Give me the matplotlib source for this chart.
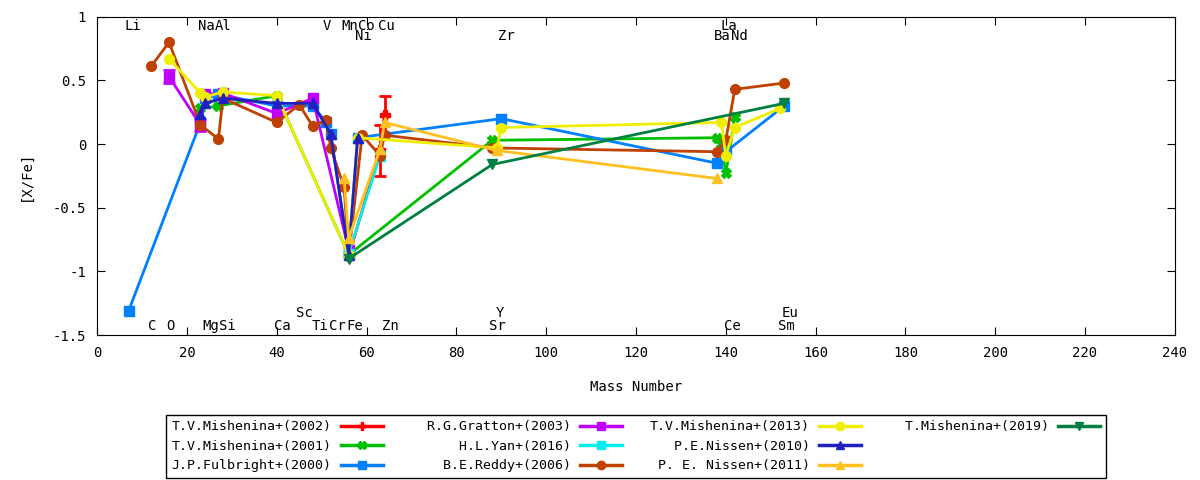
import matplotlib
matplotlib.use("Agg")
import matplotlib.pyplot as plt
from matplotlib.lines import Line2D

plt.rcParams['font.family'] = ['DejaVu Sans Mono']
plt.rcParams['font.size'] = 9.5

# series: mass numbers, [X/Fe], errors
mish02_x = [56, 63, 64]
mish02_y = [-0.88, -0.05, 0.23]
mish02_e = [0, 0.20, 0.15]

mish01_x = [23, 27, 40, 56, 88, 138, 139, 140, 142]
mish01_y = [0.28, 0.30, 0.38, -0.87, 0.03, 0.05, 0.0, -0.23, 0.21]

fulb_x = [7, 23, 24, 27, 40, 48, 51, 52, 56, 58, 90, 138, 140, 153]
fulb_y = [-1.31, 0.17, 0.36, 0.39, 0.30, 0.30, 0.17, 0.08, -0.86, 0.05, 0.20, -0.15, -0.06, 0.30]

grat_x = [16, 23, 24, 28, 40, 48, 56]
grat_y = [0.53, 0.15, 0.39, 0.40, 0.24, 0.36, -0.83]
grat_e = [0.05, 0.05, 0, 0, 0, 0, 0]

yan_x = [56, 63]
yan_y = [-0.86, -0.09]

reddy_x = [12, 16, 23, 27, 28, 40, 45, 48, 51, 52, 55, 56, 59, 63, 64, 88, 138, 140, 142, 153]
reddy_y = [0.61, 0.80, 0.15, 0.04, 0.36, 0.17, 0.31, 0.14, 0.19, -0.03, -0.34, -0.88,
           0.07, -0.09, 0.07, -0.03, -0.06, 0.03, 0.43, 0.48]

mish13_x = [16, 23, 24, 28, 40, 56, 58, 89, 90, 139, 140, 142, 152]
mish13_y = [0.67, 0.40, 0.37, 0.41, 0.38, -0.87, 0.05, -0.03, 0.13, 0.17, -0.09, 0.13, 0.28]

nis10_x = [23, 24, 28, 40, 48, 52, 56, 58]
nis10_y = [0.24, 0.32, 0.36, 0.32, 0.32, 0.08, -0.87, 0.05]

nis11_x = [55, 56, 63, 64, 89, 138]
nis11_y = [-0.27, -0.74, -0.04, 0.17, -0.05, -0.27]

mish19_x = [56, 88, 153]
mish19_y = [-0.90, -0.16, 0.32]

# element labels
elem_top = ["Li", "Na", "Al", "V", "Mn", "Co", "Cu", "La"]
elem_top_x = [8.0, 24.3, 28.0, 51.2, 56.3, 60.0, 64.3, 140.6]
elem_top2 = ["Ni", "Zr", "Ba", "Nd"]
elem_top2_x = [59.2, 91.1, 139.3, 143.1]
elem_bot = ["C", "O", "Mg", "Si", "Ca", "Ti", "Cr", "Fe", "Zn", "Sr", "Ce", "Sm"]
elem_bot_x = [12.3, 16.4, 25.3, 29.1, 41.2, 49.6, 53.4, 57.4, 65.2, 89.1, 141.4, 153.6]
elem_bot2 = ["Sc", "Y", "Eu"]
elem_bot2_x = [46.1, 89.6, 154.4]

series = [
    ("T.V.Mishenina+(2002)", mish02_x, mish02_y, mish02_e, "#ff0000", "P"),
    ("T.V.Mishenina+(2001)", mish01_x, mish01_y, None, "#00c000", "X"),
    ("J.P.Fulbright+(2000)", fulb_x, fulb_y, None, "#0080ff", "s"),
    ("R.G.Gratton+(2003)", grat_x, grat_y, grat_e, "#c000ff", "s"),
    ("H.L.Yan+(2016)", yan_x, yan_y, None, "#00eeee", "s"),
    ("B.E.Reddy+(2006)", reddy_x, reddy_y, None, "#c04000", "o"),
    ("T.V.Mishenina+(2013)", mish13_x, mish13_y, None, "#eeee00", "o"),
    ("P.E.Nissen+(2010)", nis10_x, nis10_y, None, "#2020c0", "^"),
    ("P. E. Nissen+(2011)", nis11_x, nis11_y, None, "#ffc020", "^"),
    ("T.Mishenina+(2019)", mish19_x, mish19_y, None, "#008040", "v"),
]

fig, ax = plt.subplots(figsize=(12, 4.8), dpi=100)
plt.subplots_adjust(left=0.081, right=0.979, top=0.965, bottom=0.302)

handles = []
labels = []
for name, xs, ys, es, col, mk in series:
    ax.plot(xs, ys, color=col, lw=2, marker=mk, ms=7, mec=col, mfc=col)
    if es is not None:
        ex = [x for x, e in zip(xs, es) if e > 0]
        ey = [y for y, e in zip(ys, es) if e > 0]
        ee = [e for e in es if e > 0]
        ax.errorbar(ex, ey, yerr=ee, fmt='none', ecolor=col, elinewidth=2, capsize=4, capthick=2)
    handles.append(Line2D([], [], color=col, lw=2.5, marker=mk, ms=6, mec=col, mfc=col))
    labels.append(name.rjust(20))

# pad to fill 3 rows x 4 columns
for i in range(2):
    handles.append(Line2D([], [], color='none'))
    labels.append(" " * 20)

for names, xs, yv in [(elem_top, elem_top_x, 0.93), (elem_top2, elem_top2_x, 0.85),
                      (elem_bot, elem_bot_x, -1.43), (elem_bot2, elem_bot2_x, -1.33)]:
    for n, x in zip(names, xs):
        ax.text(x, yv, n, ha='center', va='center', fontsize=10)

ax.set_xlim(0, 240)
ax.set_ylim(-1.5, 1)
ax.set_xticks(range(0, 241, 20))
ax.set_yticks([-1.5, -1, -0.5, 0, 0.5, 1])
ax.set_yticklabels(["-1.5", "-1", "-0.5", "0", "0.5", "1"])
ax.tick_params(direction='in', top=True, right=True, length=6, labelsize=10, pad=8)
ax.set_xlabel("Mass Number", fontsize=10, labelpad=14)
ax.set_ylabel("[X/Fe]", fontsize=10, labelpad=14)

leg = fig.legend(handles, labels, loc='upper center', bbox_to_anchor=(0.53, 0.1354),
                 ncol=4, markerfirst=False, fontsize=9.5, handlelength=3.2,
                 handletextpad=0.7, columnspacing=2.1, labelspacing=0.5,
                 borderpad=0.4, borderaxespad=0, fancybox=False, framealpha=1)
leg.get_frame().set_edgecolor('black')
leg.get_frame().set_linewidth(1)

fig.savefig("out.png", dpi=100)
